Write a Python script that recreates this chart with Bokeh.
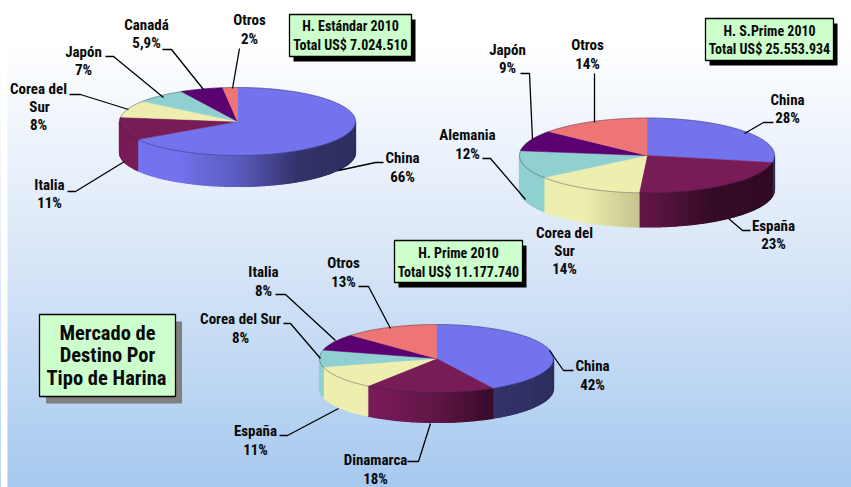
import math
from bokeh.plotting import figure
from bokeh.core.properties import value
from bokeh.embed import file_html
from bokeh.resources import INLINE

# ---------- data (percent shares, clockwise from 12 o'clock)
std_names = ["China", "Italia", "Corea del Sur", "Japón", "Canadá", "Otros"]
std_values = [66, 11, 8, 7, 5.9, 2]
std_colors = ["#7373EE", "#781C58", "#EEEEAE", "#90D0D0", "#5A0070", "#EE7575"]

sprime_names = ["China", "España", "Corea del Sur", "Alemania", "Japón", "Otros"]
sprime_values = [28, 23, 14, 12, 9, 14]
sprime_colors = ["#7373EE", "#781C58", "#EEEEAE", "#90D0D0", "#5A0070", "#EE7575"]

prime_names = ["China", "Dinamarca", "España", "Corea del Sur", "Italia", "Otros"]
prime_values = [42, 18, 11, 8, 8, 13]
prime_colors = ["#7373EE", "#781C58", "#EEEEAE", "#90D0D0", "#5A0070", "#EE7575"]

# ---------- layout (window pixels)
W, H = 851, 487
FONT = "Roboto Condensed"

# cx, cy, rx, ry, depth
std_geom = (237, 121, 118, 34, 31)
sprime_geom = (646.5, 155, 127.5, 37.5, 34)
prime_geom = (436, 358, 117, 34, 30)

texts = [
    ("Canadá", 146, 24), ("5,9%", 146, 42), ("Otros", 249, 19), ("2%", 249, 38),
    ("Japón", 83, 51), ("7%", 83, 69), ("Corea del", 38, 88), ("Sur", 39, 106), ("8%", 38, 124),
    ("Italia", 49, 184), ("11%", 49, 202), ("China", 402, 157), ("66%", 402, 176),
    ("Japón", 507, 49), ("9%", 507, 67), ("Otros", 587, 44), ("14%", 587, 63),
    ("China", 787, 99), ("28%", 787, 117), ("Alemania", 467, 134), ("12%", 467, 153),
    ("Corea del", 564, 232), ("Sur", 564, 250), ("14%", 564, 268),
    ("España", 773, 225), ("23%", 773, 243),
    ("Italia", 263, 271), ("8%", 263, 290), ("Otros", 343, 262), ("13%", 343, 281),
    ("Corea del Sur", 240, 318), ("8%", 240, 337), ("China", 592, 365), ("42%", 592, 384),
    ("España", 255, 430), ("11%", 255, 449), ("Dinamarca", 375, 459), ("18%", 375, 478),
]

# x0, y0, x1, y1, shadow dx, shadow dy, shadow colour
boxes = [
    (289, 14, 411, 56, 4, 5, "#000000"),
    (705, 18, 833, 60, 4, 5, "#000000"),
    (394, 240, 522, 282, 4, 5, "#000000"),
    (39, 314, 175, 396, 6.5, 7, "#808080"),
]
box_texts = [
    ("H. Estándar 2010", 350, 25, 14), ("Total US$ 7.024.510", 350, 44, 14),
    ("H. S.Prime 2010", 769, 30, 14), ("Total US$ 25.553.934", 769, 48, 14),
    ("H. Prime 2010", 458, 252, 14), ("Total US$ 11.177.740", 458, 271, 14),
    ("Mercado de", 107, 332, 20.5), ("Destino Por", 107, 354, 20.5), ("Tipo de Harina", 106, 377, 20.5),
]

leaders = [
    [(105, 56), (113, 56), (163, 97)], [(162, 49), (171, 49), (203, 89)], [(239, 48), (232, 88)],
    [(69, 94), (80, 94), (128, 109)], [(67, 191), (75, 191), (124, 161)], [(383, 162), (375, 162), (338, 170)],
    [(520, 73), (529, 73), (532, 139)], [(594, 73), (594, 122)], [(773, 122), (763, 122), (744, 133)],
    [(482, 158), (490, 158), (525, 199)], [(750, 230), (742, 230), (728, 218)],
    [(358, 286), (368, 286), (390, 328)], [(275, 294), (285, 294), (335, 340)], [(283, 323), (290, 323), (320, 358)],
    [(573, 370), (563, 370), (549, 350)], [(279, 435), (287, 435), (338, 408)], [(407, 461), (418, 461), (430, 423)],
]

p = figure(width=W, height=H, x_range=(0, W), y_range=(H, 0), toolbar_location=None,
           output_backend="svg", min_border=0, outline_line_color=None, x_axis_location=None,
           y_axis_location=None, background_fill_alpha=0, border_fill_alpha=0)
p.grid.visible = False
p.styles = {"background": "linear-gradient(180deg, #FFFFFF 0px, #FFFFFF 40px, #DCE8F8 240px, #A6C9EF 487px)"}
p.quad(left=[0], right=[7], top=[0], bottom=[H], fill_color="#FFFFFF", line_color=None)


def shade(u):
    pts = [(-1, 1.0), (-0.5, 1.0), (0.0, 0.8), (0.5, 0.45), (1.0, 0.4)]
    for (a, fa), (b, fb) in zip(pts, pts[1:]):
        if u <= b:
            return fa + (fb - fa) * (max(u, a) - a) / (b - a)
    return 0.4


def tint(col, k):
    r, g, b = [int(col[i:i + 2], 16) for i in (1, 3, 5)]
    return "#%02x%02x%02x" % (int(r * k), int(g * k), int(b * k))


def draw_pie(vals, cols, geom):
    cx, cy, rx, ry, d = geom
    tot = sum(vals)
    ang = 0.0
    sx, sy, sc, tx, ty, tc = [], [], [], [], [], []
    for v, c in zip(vals, cols):
        a0 = ang
        a1 = ang + 2 * math.pi * v / tot
        ang = a1
        n = max(3, int((a1 - a0) * 60))
        arc = [a0 + (a1 - a0) * i / n for i in range(n + 1)]
        tx.append([cx] + [cx + rx * math.sin(a) for a in arc])
        ty.append([cy] + [cy - ry * math.cos(a) for a in arc])
        tc.append(c)
        lo, hi = max(a0, math.pi / 2), min(a1, 3 * math.pi / 2)
        if hi > lo:
            m = max(2, int((hi - lo) * 60))
            for i in range(m):
                b0 = lo + (hi - lo) * i / m
                b1 = lo + (hi - lo) * (i + 1) / m
                x0, x1 = cx + rx * math.sin(b0), cx + rx * math.sin(b1)
                y0, y1 = cy - ry * math.cos(b0), cy - ry * math.cos(b1)
                sx.append([x0, x1, x1, x0])
                sy.append([y0, y1, y1 + d, y0 + d])
                sc.append(tint(c, shade((x0 + x1) / 2 / rx - cx / rx)))
    p.patches(sx, sy, fill_color=sc, line_color=sc, line_width=1.2)
    p.patches(tx, ty, fill_color=tc, line_color=tc, line_width=0.5)
    rim = [i * 2 * math.pi / 180 for i in range(181)]
    p.line([cx + rx * math.sin(a) for a in rim], [cy - ry * math.cos(a) for a in rim],
           line_color="#202040", line_alpha=0.45, line_width=0.8)


draw_pie(std_values, std_colors, std_geom)
draw_pie(sprime_values, sprime_colors, sprime_geom)
draw_pie(prime_values, prime_colors, prime_geom)

p.multi_line([[q[0] for q in l] for l in leaders], [[q[1] for q in l] for l in leaders],
             line_color="#000000", line_width=1.3)

for x0, y0, x1, y1, dx, dy, col in boxes:
    p.quad(left=x0 + dx, right=x1 + dx, top=y0 + dy, bottom=y1 + dy, fill_color=col, line_color=None)
    p.quad(left=x0, right=x1, top=y0, bottom=y1, fill_color="#CCFFCC", line_color="#000000", line_width=1.3)

p.text([t[1] for t in texts], [t[2] for t in texts], text=[t[0] for t in texts],
       text_font=value(FONT), text_font_style="bold", text_font_size="15px",
       text_align="center", text_baseline="middle", text_color="#0a0a0a")
for s, x, y, sz in box_texts:
    p.text([x], [y], text=[s], text_font=value(FONT), text_font_style="bold",
           text_font_size=f"{sz}px", text_align="center", text_baseline="middle", text_color="#0a0a0a")

open("out.html", "w").write(file_html(p, INLINE))
